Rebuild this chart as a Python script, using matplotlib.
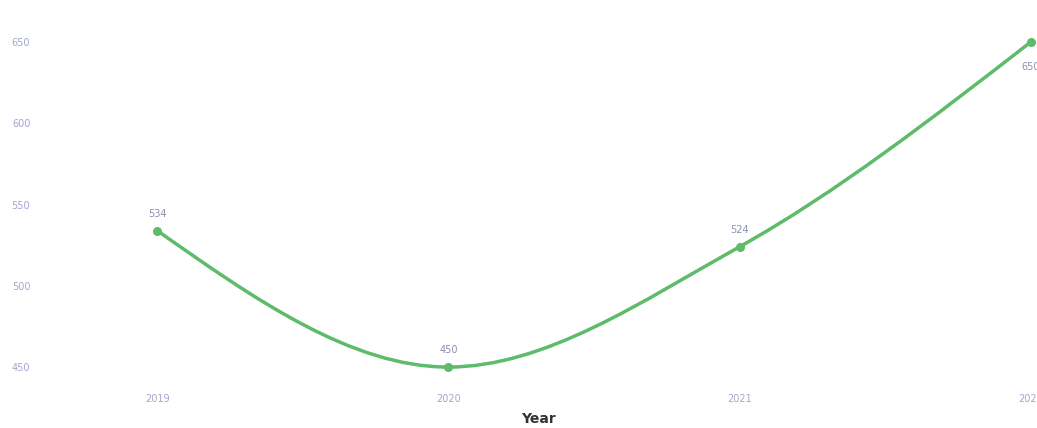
import matplotlib.pyplot as plt
from matplotlib.path import Path
from matplotlib.patches import PathPatch
import numpy as np

years = [2019, 2020, 2021, 2022]
values = [534, 450, 524, 650]
y_ticks = [450, 500, 550, 600, 650]

line_color = '#5dbb6a'
tick_color = '#a3a6d0'


def monotone_path(x, y):
    # d3-style monotone-x curve as cubic bezier segments
    x = np.asarray(x, float)
    y = np.asarray(y, float)
    n = len(x)
    h = np.diff(x)
    s = np.diff(y) / h
    t = np.zeros(n)
    for i in range(1, n - 1):
        p = (s[i - 1] * h[i] + s[i] * h[i - 1]) / (h[i - 1] + h[i])
        t[i] = (np.sign(s[i - 1]) + np.sign(s[i])) * min(abs(s[i - 1]), abs(s[i]), 0.5 * abs(p))
    t[0] = (3 * s[0] - t[1]) / 2
    t[-1] = (3 * s[-1] - t[-2]) / 2
    verts = [(x[0], y[0])]
    codes = [Path.MOVETO]
    for i in range(n - 1):
        dx = (x[i + 1] - x[i]) / 3
        verts += [(x[i] + dx, y[i] + dx * t[i]),
                  (x[i + 1] - dx, y[i + 1] - dx * t[i + 1]),
                  (x[i + 1], y[i + 1])]
        codes += [Path.CURVE4] * 3
    return Path(verts, codes)


fig = plt.figure(figsize=(10.37, 4.28), dpi=100)
ax = fig.add_axes([0.0386, 0.112, 0.961, 0.818])

ax.add_patch(PathPatch(monotone_path(years, values), facecolor='none',
                       edgecolor=line_color, lw=2.5, capstyle='round', zorder=2))
ax.scatter(years, values, s=30, color=line_color, zorder=3, clip_on=False)

for i, (x, v) in enumerate(zip(years, values)):
    off = -18 if i == len(years) - 1 else 12
    ax.annotate(str(v), (x, v), xytext=(0, off), textcoords='offset points',
                ha='center', va='center', fontsize=7, color='#8a8fb0',
                annotation_clip=False)

ax.set_xlim(2018.598, 2022.02)
ax.set_ylim(442, 657.4)
ax.set_xticks(years)
ax.set_xticklabels([str(y) for y in years])
ax.set_yticks(y_ticks)
ax.tick_params(axis='both', length=0, labelsize=7, labelcolor=tick_color)
ax.tick_params(axis='x', pad=10)
ax.tick_params(axis='y', pad=7)
ax.set_xlabel('Year', fontsize=10, fontweight='bold', color='#333333', labelpad=6)
for sp in ax.spines.values():
    sp.set_visible(False)
ax.grid(False)

fig.savefig('out.png', dpi=100)
